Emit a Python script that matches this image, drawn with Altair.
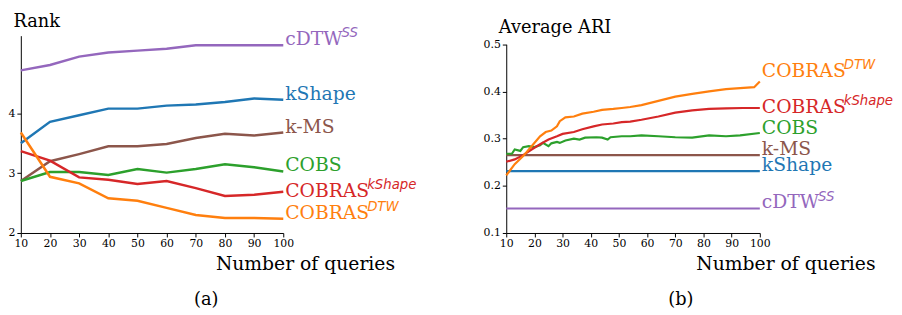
import altair as alt
import pandas as pd

# ---------------- data ----------------
METHODS = ["cDTW", "kShape", "k-MS", "COBS", "COBRAS-kShape", "COBRAS-DTW"]
COLORS = ["#9467bd", "#1f77b4", "#8c564b", "#2ca02c", "#d62728", "#ff7f0e"]

# panel (a): rank
rank_q = [10, 20, 30, 40, 50, 60, 70, 80, 90, 100]
rank_cdtw = [4.72, 4.81, 4.95, 5.02, 5.05, 5.08, 5.14, 5.14, 5.14, 5.14]
rank_kshape = [3.50, 3.86, 3.97, 4.08, 4.08, 4.13, 4.15, 4.19, 4.25, 4.23]
rank_kms = [2.87, 3.20, 3.32, 3.45, 3.45, 3.49, 3.59, 3.66, 3.63, 3.68]
rank_cobs = [2.87, 3.02, 3.02, 2.97, 3.07, 3.01, 3.07, 3.15, 3.10, 3.03]
rank_cobras_kshape = [3.37, 3.21, 2.93, 2.89, 2.82, 2.87, 2.75, 2.62, 2.64, 2.69]
rank_cobras_dtw = [3.68, 2.94, 2.83, 2.58, 2.54, 2.42, 2.30, 2.25, 2.25, 2.24]

# panel (b): average ARI
ari_const_q = [10, 100]
ari_cdtw = [0.152, 0.152]
ari_kshape = [0.231, 0.231]
ari_kms = [0.265, 0.265]
ari_cobs_q = [10, 12, 13, 15, 16, 18, 20, 22, 23, 25, 26, 28, 29, 31, 34, 36, 38, 42, 44, 46,
              47, 51, 54, 58, 64, 70, 76, 82, 88, 93, 100]
ari_cobs = [0.268, 0.268, 0.277, 0.274, 0.282, 0.284, 0.282, 0.286, 0.291, 0.284, 0.290, 0.293,
            0.291, 0.296, 0.300, 0.298, 0.302, 0.303, 0.302, 0.298, 0.303, 0.305, 0.305, 0.307,
            0.305, 0.303, 0.302, 0.307, 0.305, 0.307, 0.312]
ari_cobras_kshape_q = [10, 13, 16, 19, 22, 25, 28, 30, 34, 37, 41, 44, 48, 51, 54, 58, 64, 70,
                       76, 82, 88, 94, 100]
ari_cobras_kshape = [0.251, 0.256, 0.265, 0.277, 0.288, 0.298, 0.305, 0.310, 0.314, 0.320, 0.326,
                     0.330, 0.332, 0.335, 0.336, 0.340, 0.347, 0.355, 0.360, 0.363, 0.364, 0.365,
                     0.365]
ari_cobras_dtw_q = [10, 13, 16, 19, 22, 24, 26, 28, 29, 31, 34, 37, 41, 44, 48, 51, 54, 58, 64,
                    70, 76, 82, 88, 93, 98, 100]
ari_cobras_dtw = [0.222, 0.246, 0.263, 0.284, 0.305, 0.314, 0.317, 0.326, 0.337, 0.345, 0.347,
                  0.353, 0.357, 0.361, 0.363, 0.365, 0.367, 0.371, 0.380, 0.389, 0.395, 0.400,
                  0.405, 0.407, 0.409, 0.421]

# end-of-line labels
label_main = ["cDTW", "kShape", "k-MS", "COBS", "COBRAS", "COBRAS"]
label_sup = ["SS", "", "", "", "kShape", "DTW"]
rank_label_y = [5.14, 4.23, 3.68, 3.03, 2.60, 2.24]
ari_label_y = [0.152, 0.231, 0.265, 0.310, 0.355, 0.430]

x_ticks = [10, 20, 30, 40, 50, 60, 70, 80, 90, 100]
rank_ticks = [2, 3, 4]
ari_ticks = [0.1, 0.2, 0.3, 0.4, 0.5]

# ---------------- tables ----------------
def long_table(series):
    rows = []
    for method, qs, vals in series:
        for q, v in zip(qs, vals):
            rows.append({"q": q, "v": v, "method": method})
    return pd.DataFrame(rows)

rank_df = long_table([
    ("cDTW", rank_q, rank_cdtw),
    ("kShape", rank_q, rank_kshape),
    ("k-MS", rank_q, rank_kms),
    ("COBS", rank_q, rank_cobs),
    ("COBRAS-kShape", rank_q, rank_cobras_kshape),
    ("COBRAS-DTW", rank_q, rank_cobras_dtw),
])
ari_df = long_table([
    ("cDTW", ari_const_q, ari_cdtw),
    ("kShape", ari_const_q, ari_kshape),
    ("k-MS", ari_const_q, ari_kms),
    ("COBS", ari_cobs_q, ari_cobs),
    ("COBRAS-kShape", ari_cobras_kshape_q, ari_cobras_kshape),
    ("COBRAS-DTW", ari_cobras_dtw_q, ari_cobras_dtw),
])

def label_table(ys):
    return pd.DataFrame({"q": [100] * len(METHODS), "v": ys, "method": METHODS,
                         "main": label_main, "sup": label_sup})

SERIF = "DejaVu Serif"
SANS = "DejaVu Sans"
color = alt.Color("method:N", scale=alt.Scale(domain=METHODS, range=COLORS), legend=None)


def panel(df, lab_df, y_domain, y_ticks, y_fmt, y_title, title_x, title_y, y_range,
          width, stroke, xtitle_x, sup_dx_cdtw, sup_dx_cobras, caption, cap_x):
    x_enc = alt.X("q:Q", scale=alt.Scale(domain=[10, 100], nice=False, zero=False),
                  axis=alt.Axis(values=x_ticks, title="Number of queries", grid=False,
                                domainColor="black", tickColor="black", tickSize=4,
                                labelFont=SERIF, labelFontSize=11, labelColor="black",
                                labelPadding=1, labelOverlap=False, labelFlush=False,
                                labelSeparation=0,
                                titleFont=SERIF, titleFontSize=19,
                                titleFontWeight="normal", titleColor="black",
                                titleX=xtitle_x, titleY=37, titleAlign="center",
                                titleBaseline="alphabetic"))
    if y_range is not None:
        yscale = alt.Scale(domain=y_domain, nice=False, zero=False, range=y_range)
    else:
        yscale = alt.Scale(domain=y_domain, nice=False, zero=False)
    y_enc = alt.Y("v:Q", scale=yscale,
                  axis=alt.Axis(values=y_ticks, format=y_fmt, title=y_title, grid=False,
                                domainColor="black", tickColor="black", tickSize=4,
                                labelFont=SERIF, labelFontSize=11, labelColor="black",
                                labelPadding=2, labelOverlap=False,
                                titleFont=SERIF, titleFontSize=18,
                                titleFontWeight="normal", titleColor="black", titleAngle=0,
                                titleAlign="left", titleBaseline="alphabetic",
                                titleX=title_x, titleY=title_y))
    lines = alt.Chart(df).mark_line(strokeWidth=stroke, clip=False).encode(
        x=x_enc, y=y_enc, color=color, detail="method:N")
    main = alt.Chart(lab_df).mark_text(align="left", baseline="alphabetic", dx=2,
                                       font=SERIF, fontSize=19).encode(
        x=x_enc, y=y_enc, text="main:N", color=color)
    sup1 = alt.Chart(lab_df).transform_filter(alt.datum.main == "cDTW").mark_text(
        align="left", baseline="alphabetic", dx=sup_dx_cdtw, dy=-8, font=SANS,
        fontStyle="italic", fontSize=13.5).encode(x=x_enc, y=y_enc, text="sup:N", color=color)
    sup2 = alt.Chart(lab_df).transform_filter(alt.datum.main == "COBRAS").mark_text(
        align="left", baseline="alphabetic", dx=sup_dx_cobras, dy=-8, font=SANS,
        fontStyle="italic", fontSize=13.5).encode(x=x_enc, y=y_enc, text="sup:N", color=color)
    cap = alt.Chart(pd.DataFrame({"c": [caption]})).mark_text(
        font=SERIF, fontSize=18, align="center", baseline="middle", color="black").encode(
        x=alt.value(cap_x), y=alt.value(268), text="c:N")
    return alt.layer(lines, main, sup1, sup2, cap).properties(width=width, height=200)


left = panel(rank_df, label_table(rank_label_y), [2, 5.3], rank_ticks, "d", "Rank",
             -8, -9, None, 266, 2.5, 288, 59, 85, "(a)", 188)
right = panel(ari_df, label_table(ari_label_y), [0.1, 0.5], ari_ticks, ".1f", "Average ARI",
              -8, -3, [200, 8.7], 257, 2.2, 283, 59, 85, "(b)", 177)

chart = alt.hconcat(left, right, spacing=226, bounds="flush").properties(
    padding={"left": 0, "top": 3, "right": 0, "bottom": 0}
).configure_view(stroke=None).configure_axis(domainWidth=1, tickWidth=1, labelOverlap=False)

chart.save("out.html", embed_options={"renderer": "svg", "actions": False})
